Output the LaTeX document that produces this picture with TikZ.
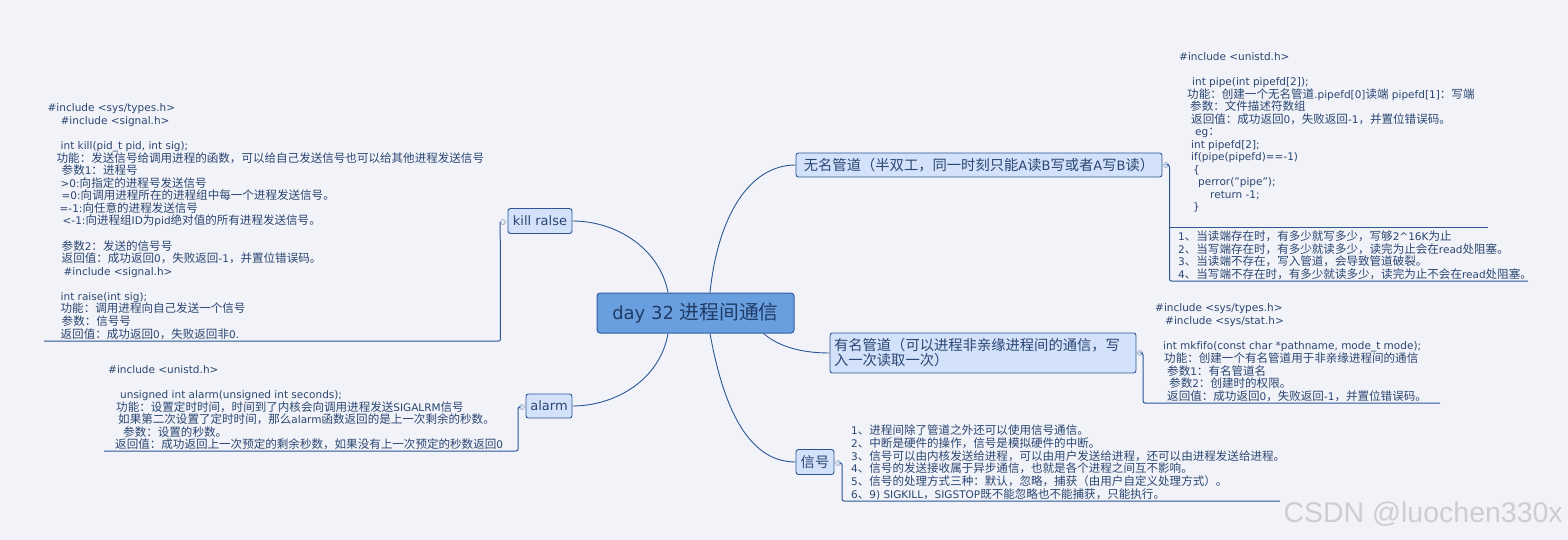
\documentclass[tikz,border=0pt]{standalone}
\usepackage{fontspec}
\setmainfont{DejaVu Sans}[Ligatures=NoCommon]
\newfontfamily\latf{DejaVu Sans}[Ligatures=NoCommon]
\newfontfamily\cjkf{Noto Sans CJK SC}[Scale=1.1]
\newfontfamily\wmf{Liberation Sans}
\usetikzlibrary{calc}
\XeTeXinterchartokenstate=1
\newXeTeXintercharclass\cjkcls
\makeatletter
\def\setcjkrange#1#2{\count@=#1\relax\loop\XeTeXcharclass\count@=\cjkcls\relax\ifnum\count@<#2\relax\advance\count@\@ne\repeat}
\setcjkrange{"3000}{"303F}
\setcjkrange{"4E00}{"9FFF}
\setcjkrange{"FF00}{"FFEF}
\makeatother
\XeTeXinterchartoks 0 \cjkcls = {\cjkf}
\XeTeXinterchartoks 4095 \cjkcls = {\cjkf}
\XeTeXinterchartoks \cjkcls 0 = {\latf}
\XeTeXinterchartoks \cjkcls 4095 = {\latf}
\definecolor{bgc}{HTML}{F2F3F8}
\definecolor{txtc}{HTML}{2A4672}
\definecolor{linec}{HTML}{2B5797}
\definecolor{topfill}{HTML}{D3E1FA}
\definecolor{cenfill}{HTML}{6A9FDF}
\definecolor{cendraw}{HTML}{2F5F9F}
\definecolor{centxt}{HTML}{1F3B66}
\definecolor{mkfill}{HTML}{E6ECF6}
\definecolor{mkdraw}{HTML}{8EA3C4}
\definecolor{wmc}{HTML}{CDCDD2}
\tikzset{
  rootbox/.style={draw=cendraw, fill=cenfill, rounded corners=3pt, line width=1pt, text=centxt, font=\fontsize{18}{20}\selectfont, inner sep=0pt},
  topic/.style={draw=linec, fill=topfill, rounded corners=2.5pt, line width=0.9pt, text=txtc, font=\fontsize{13}{15}\selectfont, inner sep=0pt},
  txt/.style={text=txtc, align=left, inner sep=0pt, anchor=base west},
  conn/.style={draw=linec, line width=0.9pt},
  brk/.style={draw=linec, line width=1pt, rounded corners=2pt},
  mkr/.style={circle, draw=mkdraw, fill=mkfill, line width=0.6pt, minimum size=5pt, inner sep=0pt}
}
\begin{document}
\begin{tikzpicture}[x=1pt, y=-1pt]
\useasboundingbox (0,0) rectangle (1568,540);
\fill[bgc] (0,0) rectangle (1568,540);

% main topics
\node[rootbox, minimum width=197pt, minimum height=40pt] (root) at (695.5,313) {day 32 进程间通信};
\node[topic, minimum width=64pt, minimum height=25pt] (kill) at (540,221) {kill ralse};
\node[topic, minimum width=46pt, minimum height=24pt] (alarm) at (549,406) {alarm};
\node[topic, minimum width=366pt, minimum height=24pt] (pipe) at (979,165) {无名管道（半双工，同一时刻只能A读B写或者A写B读）};
\node[topic, minimum width=306pt, minimum height=40pt, text width=298pt, align=left] (fifo) at (983,353) {有名管道（可以进程非亲缘进程间的通信，写\\入一次读取一次）};
\node[topic, minimum width=38pt, minimum height=25pt] (sig) at (815,462) {信号};

% connectors from root
\draw[conn] ([xshift=-27.5pt]root.north) .. controls (660,250) and (618,221) .. (kill.east);
\draw[conn] ([xshift=14.5pt]root.north) .. controls (718,215) and (750,165) .. (pipe.west);
\draw[conn] ([xshift=68pt]root.south) .. controls (778,346) and (800,353) .. (fifo.west);
\draw[conn] ([xshift=-27.5pt]root.south) .. controls (660,380) and (615,406) .. (alarm.east);
\draw[conn] ([xshift=14.5pt]root.south) .. controls (722,400) and (745,462) .. (sig.west);

% collapse markers
\node[mkr] (mk1) at (503,222) {};
\node[mkr] (mk2) at (522,407) {};
\node[mkr] (mk3) at (1166,165) {};
\node[mkr] (mk4) at (1140,353) {};
\node[mkr] (mk5) at (838,463) {};

% bracket lines
\coordinate (k1) at (44,341);
\coordinate (a1) at (104,451);
\coordinate (p1) at (1488,227);
\coordinate (p2) at (1528,281);
\coordinate (f1) at (1440,403);
\coordinate (s1) at (1280,501);
\draw[brk] (mk1.west) -- (500.5,341) -- (k1);
\draw[brk] (mk2.west) -- (518,407) -- (518,451) -- (a1);
\draw[brk] (mk3.east) -- (1169.5,165) -- (1169.5,281) -- (p2);
\draw[brk] (1169.5,227) -- (p1);
\draw[brk] (mk4.east) -- (1143,353) -- (1143,403) -- (f1);
\draw[brk] (mk5.east) -- (842,463) -- (842,501) -- (s1);

% text blocks (anchor = baseline of last line)
\node[txt, font=\fontsize{10.5}{12.57}\selectfont] (killtxt) at (47.5,338) {%
\#include <sys/types.h>\\
\hspace*{13pt}\#include <signal.h>\\
\mbox{}\\
\hspace*{13pt}int kill(pid\_t pid, int sig);\\
\hspace*{9pt}功能：发送信号给调用进程的函数，可以给自己发送信号也可以给其他进程发送信号\\
\hspace*{14pt}参数1：进程号\\
\hspace*{13pt}>0:向指定的进程号发送信号\\
\hspace*{14pt}=0:向调用进程所在的进程组中每一个进程发送信号。\\
\hspace*{12pt}=-1:向任意的进程发送信号\\
\hspace*{15pt}<-1:向进程组ID为pid绝对值的所有进程发送信号。\\
\mbox{}\\
\hspace*{14pt}参数2：发送的信号号\\
\hspace*{14pt}返回值：成功返回0，失败返回-1，并置位错误码。\\
\hspace*{16pt}\#include <signal.h>\\
\mbox{}\\
\hspace*{13pt}int raise(int sig);\\
\hspace*{13pt}功能：调用进程向自己发送一个信号\\
\hspace*{14pt}参数：信号号\\
\hspace*{13pt}返回值：成功返回0，失败返回非0.};

\node[txt, font=\fontsize{10.5}{12.5}\selectfont] (alarmtxt) at (108,448.5) {%
\#include <unistd.h>\\
\mbox{}\\
\hspace*{12pt}unsigned int alarm(unsigned int seconds);\\
\hspace*{8pt}功能：设置定时时间，时间到了内核会向调用进程发送SIGALRM信号\\
\hspace*{10pt}如果第二次设置了定时时间，那么alarm函数返回的是上一次剩余的秒数。\\
\hspace*{15pt}参数：设置的秒数。\\
\hspace*{7pt}返回值：成功返回上一次预定的剩余秒数，如果没有上一次预定的秒数返回0};

\node[txt, font=\fontsize{10.5}{12.5}\selectfont] (pipetxt) at (1179,211) {%
\#include <unistd.h>\\
\mbox{}\\
\hspace*{13pt}int pipe(int pipefd[2]);\\
\hspace*{8pt}功能：创建一个无名管道.pipefd[0]读端 pipefd[1]：写端\\
\hspace*{11pt}参数：文件描述符数组\\
\hspace*{12pt}返回值：成功返回0，失败返回-1，并置位错误码。\\
\hspace*{16pt}eg：\\
\hspace*{12pt}int pipefd[2];\\
\hspace*{12pt}if(pipe(pipefd)==-1)\\
\hspace*{14pt}\{\\
\hspace*{19pt}perror("pipe");\\
\hspace*{31pt}return -1;\\
\hspace*{14pt}\}};

\node[txt, font=\fontsize{10.5}{12.7}\selectfont] (pipelist) at (1178,278.5) {%
1、当读端存在时，有多少就写多少，写够2\textasciicircum 16K为止\\
2、当写端存在时，有多少就读多少，读完为止会在read处阻塞。\\
3、当读端不存在，写入管道，会导致管道破裂。\\
4、当写端不存在时，有多少就读多少，读完为止不会在read处阻塞。};

\node[txt, font=\fontsize{10.5}{12.7}\selectfont] (fifotxt) at (1155,400.5) {%
\#include <sys/types.h>\\
\hspace*{10pt}\#include <sys/stat.h>\\
\mbox{}\\
\hspace*{8pt}int mkfifo(const char *pathname, mode\_t mode);\\
\hspace*{9pt}功能：创建一个有名管道用于非亲缘进程间的通信\\
\hspace*{12pt}参数1：有名管道名\\
\hspace*{14pt}参数2：创建时的权限。\\
\hspace*{12pt}返回值：成功返回0，失败返回-1，并置位错误码。};

\node[txt, font=\fontsize{10.5}{12.8}\selectfont] (sigtxt) at (851,498.5) {%
1、进程间除了管道之外还可以使用信号通信。\\
2、中断是硬件的操作，信号是模拟硬件的中断。\\
3、信号可以由内核发送给进程，可以由用户发送给进程，还可以由进程发送给进程。\\
4、信号的发送接收属于异步通信，也就是各个进程之间互不影响。\\
5、信号的处理方式三种：默认，忽略，捕获（由用户自定义处理方式）。\\
6、9) SIGKILL，SIGSTOP既不能忽略也不能捕获，只能执行。};

% watermark
\node[font=\wmf\fontsize{28.5}{28.5}\selectfont, text=wmc, anchor=base east, inner sep=0pt] (wm) at (1563,522.5) {CSDN @luochen330x};
\end{tikzpicture}
\end{document}
